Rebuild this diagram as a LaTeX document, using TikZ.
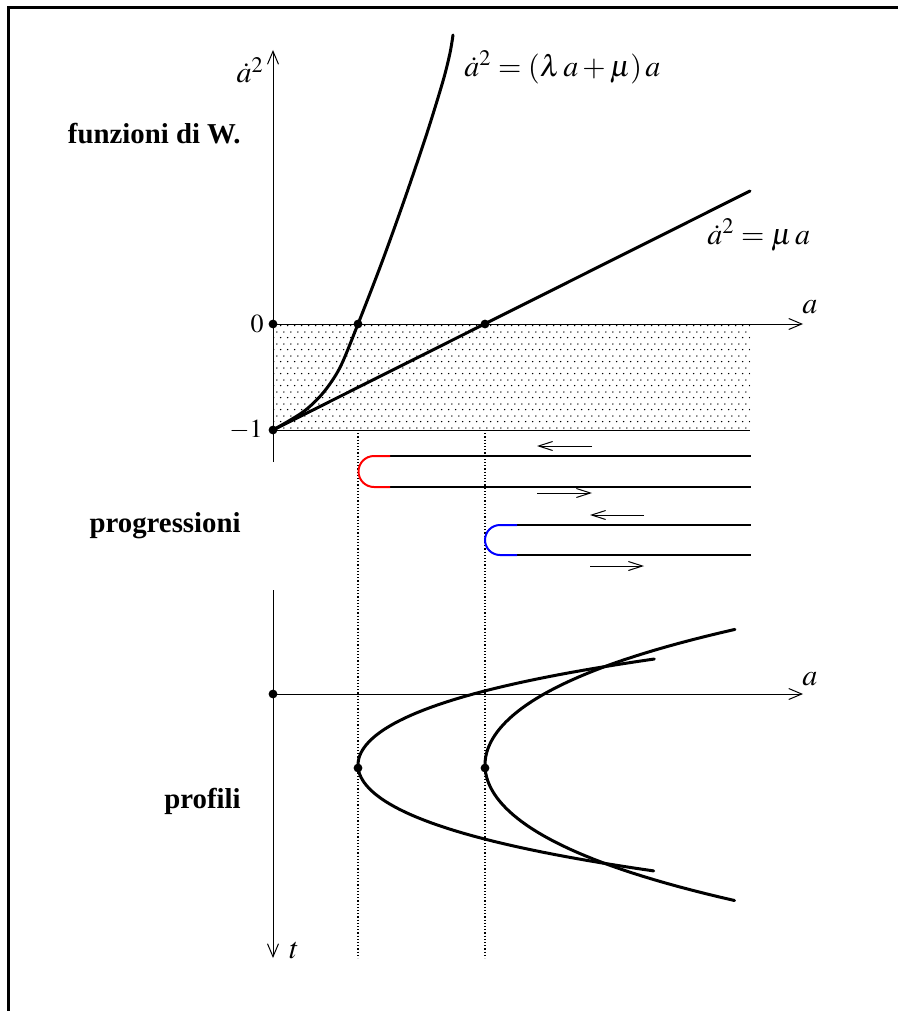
\documentclass[tikz,border=0pt]{standalone}
\usepackage{mathptmx}
\usepackage{fontspec}
\setmainfont{Liberation Serif}
\usetikzlibrary{arrows.meta,patterns}
\pgfdeclarepatternformonly{finedots}{\pgfpointorigin}{\pgfpoint{3.4pt}{6pt}}{\pgfpoint{3.4pt}{6pt}}{%
  \pgfpathcircle{\pgfpoint{0.85pt}{0.75pt}}{0.4pt}%
  \pgfpathcircle{\pgfpoint{2.55pt}{3.75pt}}{0.4pt}%
  \pgfusepath{fill}}
\begin{document}
\begin{tikzpicture}[x=0.5pt,y=-0.5pt,
  axisline/.style={line width=0.5pt},
  axisarrow/.style={line width=0.5pt,-{Straight Barb[length=6.5pt,width=5.5pt,line width=0.5pt]}},
  curve/.style={line width=1.5pt,line cap=round,line join=round},
  guide/.style={line width=0.6pt,dash pattern=on 0.6pt off 1.0pt},
  dotmark/.style={circle,fill=black,inner sep=0pt,minimum size=4.4pt},
  flow/.style={line width=0.6pt},
  flowarrow/.style={line width=0.5pt,-{Straight Barb[length=7pt,width=4.5pt,line width=0.5pt]}},
  turn/.style={line width=1pt},
  lab/.style={inner sep=0pt,font=\fontsize{14.4}{17}\selectfont\bfseries},
  mathlab/.style={inner sep=0pt,font=\fontsize{15}{18}\selectfont},
  numlab/.style={inner sep=0pt,font=\fontsize{13}{15}\selectfont},
]
\useasboundingbox (0,0) rectangle (898,1011);
\draw[line width=1.5pt] (8.5,1011) -- (8.5,7.5) -- (898,7.5);

% shaded band between 0 and -1
\fill[pattern=finedots] (273,324) rectangle (750,430);

% dotted guides
\coordinate (g1t) at (358,430); \coordinate (g1b) at (358,958);
\coordinate (g2t) at (485,430); \coordinate (g2b) at (485,958);
\draw[guide] (g1t) -- (g1b);
\draw[guide] (g2t) -- (g2b);

% upper axes
\coordinate (vA) at (273,462); \coordinate (vB) at (273,50);
\coordinate (hA) at (273,324); \coordinate (hB) at (803,324);
\coordinate (mA) at (273,430); \coordinate (mB) at (750,430);
\draw[axisarrow] (vA) -- (vB);
\draw[axisarrow] (hA) -- (hB);
\draw[axisline] (mA) -- (mB);

% curves of the upper panel
\coordinate (lineEnd) at (750,191);
\draw[curve] (mA) -- (lineEnd);
\draw[curve] plot[smooth] coordinates {(273,430) (303,412) (323,393) (340,367.5) (358,324) (382,262) (405,198) (427,133) (443,81) (450,53) (453,35)};

\node[dotmark] (d0) at (273,324) {};
\node[dotmark] (d1) at (273,430) {};
\node[dotmark] (d2) at (358,324) {};
\node[dotmark] (d3) at (485,324) {};

% labels upper panel
\node[mathlab,anchor=base east] (ylab) at (264,83) {$\dot a^2$};
\node[mathlab,anchor=base west] (alab1) at (802,313) {$a$};
\node[mathlab,anchor=base west] (eq1) at (464,76) {$\dot a^2=(\lambda\,a+\mu)\,a$};
\node[mathlab,anchor=base west] (eq2) at (707,244) {$\dot a^2=\mu\,a$};
\node[numlab,anchor=base east] (zero) at (264,332) {$0$};
\node[numlab,anchor=base east] (mone) at (263,437) {$-1$};
\node[lab,anchor=base east] (t1) at (241,143) {funzioni di W.};
\node[lab,anchor=base east] (t2) at (241,532) {progressioni};
\node[lab,anchor=base east] (t3) at (241,808) {profili};

% progressions
\coordinate (r1) at (390,456); \coordinate (r1e) at (751,456);
\coordinate (r2) at (390,487); \coordinate (r2e) at (751,487);
\coordinate (b1) at (517,525); \coordinate (b1e) at (751,525);
\coordinate (b2) at (517,555); \coordinate (b2e) at (751,555);
\draw[flow] (r1) -- (r1e);
\draw[flow] (r2) -- (r2e);
\draw[flow] (b1) -- (b1e);
\draw[flow] (b2) -- (b2e);
\draw[turn,red] (r1) -- (374,456) .. controls (365.4,456) and (358.5,462.9) .. (358.5,471.5) .. controls (358.5,480.1) and (365.4,487) .. (374,487) -- (r2);
\draw[turn,blue] (b1) -- (500,525) .. controls (491.7,525) and (485,531.7) .. (485,540) .. controls (485,548.3) and (491.7,555) .. (500,555) -- (b2);

\coordinate (a1s) at (592,446); \coordinate (a1e) at (537,446);
\coordinate (a2s) at (537,493); \coordinate (a2e) at (592,493);
\coordinate (a3s) at (644,515); \coordinate (a3e) at (590,515);
\coordinate (a4s) at (590,566); \coordinate (a4e) at (644,566);
\draw[flowarrow] (a1s) -- (a1e);
\draw[flowarrow] (a2s) -- (a2e);
\draw[flowarrow] (a3s) -- (a3e);
\draw[flowarrow] (a4s) -- (a4e);

% lower axes
\coordinate (tA) at (273,590); \coordinate (tB) at (273,958);
\coordinate (pA) at (273,694); \coordinate (pB) at (803,694);
\draw[axisarrow] (tA) -- (tB);
\draw[axisarrow] (pA) -- (pB);
\node[mathlab,anchor=base west] (alab2) at (802,685) {$a$};
\node[mathlab,anchor=base west] (tlab) at (289,958) {$t$};

% profiles
\draw[curve] plot[domain=-1.06:1.06,samples=80,variable=\s] ({358+200*\s*\s+56.7*\s*\s*\s*\s},{765+100*\s});
\draw[curve] plot[domain=-1.356:1.356,samples=80,variable=\s] ({485+110*\s*\s+14.1*\s*\s*\s*\s},{765+100*\s});

\node[dotmark] (p0) at (273,694) {};
\node[dotmark] (p1) at (358,768) {};
\node[dotmark] (p2) at (485,768) {};
\end{tikzpicture}
\end{document}
